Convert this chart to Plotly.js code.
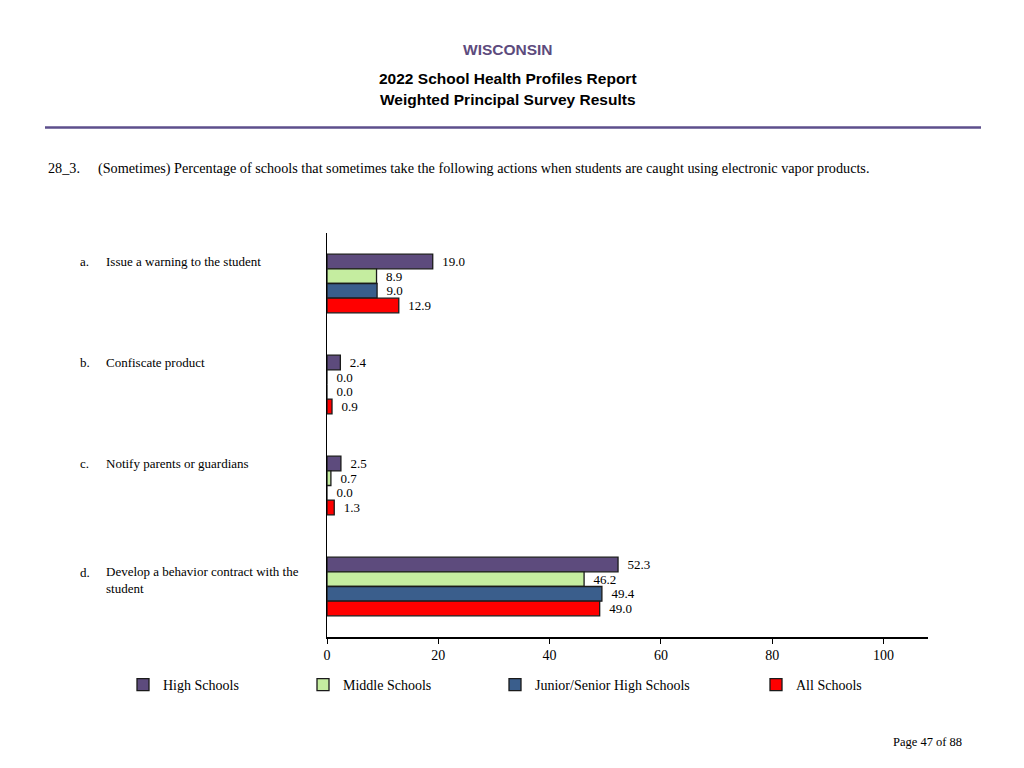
<!DOCTYPE html>
<html>
<head>
<meta charset="utf-8">
<script src="https://cdn.plot.ly/plotly-3.0.1.min.js"></script>
<style>html,body{margin:0;padding:0;background:#fff;}#chart{width:1024px;height:768px;}</style>
</head>
<body>
<div id="chart"></div>
<script>
// ---- data ----
const letters = ['a.', 'b.', 'c.', 'd.'];
const categories = [
  'Issue a warning to the student',
  'Confiscate product',
  'Notify parents or guardians',
  'Develop a behavior contract with the<br>student'
];
const seriesNames = ['High Schools', 'Middle Schools', 'Junior/Senior High Schools', 'All Schools'];
const highSchools = [19.0, 2.4, 2.5, 52.3];
const middleSchools = [8.9, 0.0, 0.7, 46.2];
const juniorSenior = [9.0, 0.0, 0.0, 49.4];
const allSchools = [12.9, 0.9, 1.3, 49.0];
const xTicks = [0, 20, 40, 60, 80, 100];

const stateName = 'WISCONSIN';
const reportTitle = '2022 School Health Profiles Report';
const reportSubtitle = 'Weighted Principal Survey Results';
const questionId = '28_3.';
const questionText = '(Sometimes) Percentage of schools that sometimes take the following actions when students are caught using electronic vapor products.';
const pageText = 'Page 47 of 88';

// ---- layout helpers (pixel -> paper) ----
const L = 327, R = 928, T = 233, B = 637;
const W = 1024, H = 768;
const px = p => (p - L) / (R - L);
const py = p => (B - p) / (B - T);

const colors = ['#5d4b7d', '#c5eda0', '#3a5e8c', '#ff0000'];
const values = [highSchools, middleSchools, juniorSenior, allSchools];
const legendX = [123, 303, 495, 756];
const legendIds = ['legend', 'legend2', 'legend3', 'legend4'];

const serif = 'Liberation Serif, Times New Roman, serif';
const sans = 'Liberation Sans, Arial, sans-serif';

const yIdx = categories.map((c, i) => i);

const traces = values.map((v, k) => ({
  type: 'bar',
  orientation: 'h',
  name: seriesNames[k],
  x: v,
  y: yIdx,
  marker: {color: colors[k], line: {color: '#1a1a1a', width: 1.3}},
  text: v.map(d => '\u00a0\u00a0' + d.toFixed(1)),
  textposition: 'outside',
  textangle: 0,
  cliponaxis: false,
  constraintext: 'none',
  textfont: {family: serif, size: 13, color: '#000'},
  hoverinfo: 'x+name',
  legend: legendIds[k]
}));

const annotations = [];
categories.forEach((c, i) => {
  const lines = c.split('<br>').length;
  annotations.push({
    xref: 'paper', yref: 'y', x: px(78), y: i, xanchor: 'left', yanchor: 'middle',
    yshift: lines > 1 ? 14.5 : 22.5, text: letters[i], showarrow: false,
    font: {family: serif, size: 13, color: '#000'}
  });
  annotations.push({
    xref: 'paper', yref: 'y', x: px(104), y: i, xanchor: 'left', yanchor: 'middle',
    yshift: lines > 1 ? 6.5 : 22.5, text: c, showarrow: false, align: 'left',
    font: {family: serif, size: 13, color: '#000'}
  });
});
annotations.push(
  {xref: 'paper', yref: 'paper', x: px(508), y: py(49), xanchor: 'center', yanchor: 'middle',
   text: '<b>' + stateName + '</b>', showarrow: false, font: {family: sans, size: 15.5, color: '#5d4b7d'}},
  {xref: 'paper', yref: 'paper', x: px(508), y: py(78), xanchor: 'center', yanchor: 'middle',
   text: '<b>' + reportTitle + '</b>', showarrow: false, font: {family: sans, size: 15.5, color: '#000'}},
  {xref: 'paper', yref: 'paper', x: px(508), y: py(100), xanchor: 'center', yanchor: 'middle',
   text: '<b>' + reportSubtitle + '</b>', showarrow: false, font: {family: sans, size: 15.5, color: '#000'}},
  {xref: 'paper', yref: 'paper', x: px(46), y: py(168), xanchor: 'left', yanchor: 'middle',
   text: questionId, showarrow: false, font: {family: serif, size: 14.2, color: '#000'}},
  {xref: 'paper', yref: 'paper', x: px(96), y: py(168), xanchor: 'left', yanchor: 'middle',
   text: questionText, showarrow: false, font: {family: serif, size: 14.2, color: '#000'}},
  {xref: 'paper', yref: 'paper', x: px(964), y: py(742), xanchor: 'right', yanchor: 'middle',
   text: pageText, showarrow: false, font: {family: serif, size: 12.5, color: '#000'}}
);

const layout = {
  width: W, height: H,
  margin: {l: L, r: W - R, t: T, b: H - B, pad: 0},
  paper_bgcolor: '#fff', plot_bgcolor: '#fff',
  barmode: 'group', bargap: 0.42, bargroupgap: 0,
  font: {family: serif, size: 14, color: '#000'},
  xaxis: {
    range: [0, 108], tickvals: xTicks, ticktext: xTicks.map(String),
    showgrid: false, zeroline: false, showline: true, linecolor: '#000', linewidth: 1.5,
    ticks: 'outside', ticklen: 5, tickcolor: '#000', tickwidth: 1,
    tickfont: {family: serif, size: 14, color: '#000'}, fixedrange: true
  },
  yaxis: {
    range: [3.5, -0.5], showticklabels: false, showgrid: false, zeroline: false,
    showline: true, linecolor: '#000', linewidth: 1.5, ticks: '', fixedrange: true
  },
  shapes: [{
    type: 'line', xref: 'paper', yref: 'paper', x0: px(45), x1: px(981), y0: py(127.5), y1: py(127.5),
    line: {color: '#5d4f8c', width: 2.5}
  }],
  annotations: annotations,
  showlegend: true
};
legendIds.forEach((id, k) => {
  layout[id] = {
    x: px(legendX[k]), y: py(685), xanchor: 'left', yanchor: 'middle',
    orientation: 'h', bgcolor: 'rgba(0,0,0,0)', borderwidth: 0,
    font: {family: serif, size: 14, color: '#000'}
  };
});

Plotly.newPlot('chart', traces, layout, {displayModeBar: false, staticPlot: true});
</script>
</body>
</html>
